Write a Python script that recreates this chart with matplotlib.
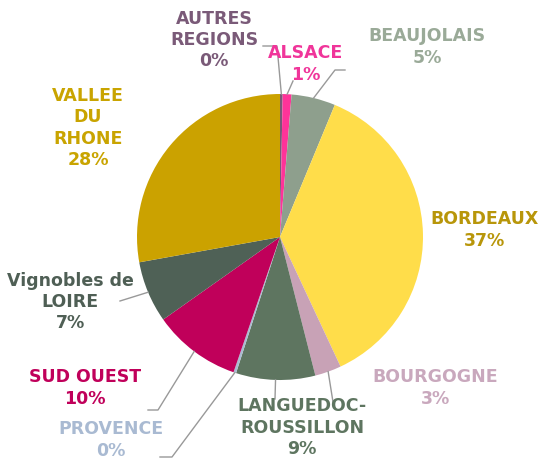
import matplotlib.pyplot as plt
import numpy as np

# Répartition par région (%)
regions = ['AUTRES\nREGIONS', 'ALSACE', 'BEAUJOLAIS', 'BORDEAUX', 'BOURGOGNE',
           'LANGUEDOC-\nROUSSILLON', 'PROVENCE', 'SUD OUEST', 'Vignobles de\nLOIRE',
           'VALLEE\nDU\nRHONE']
parts = [0.3, 1, 5, 37, 3, 9, 0.3, 10, 7, 28]
pct_labels = ['0%', '1%', '5%', '37%', '3%', '9%', '0%', '10%', '7%', '28%']
wedge_colors = ['#7b5877', '#ff3399', '#8e9f8d', '#ffdd4a', '#c8a2b6', '#5e7560',
                '#a9bcd2', '#c0005a', '#4f6156', '#cba200']
text_colors = ['#7a5a78', '#f0359a', '#9aaa98', '#b8960a', '#c9a8bd', '#5e7560',
               '#a9bad2', '#c0005a', '#4f5f55', '#c9a400']

# positions des étiquettes (pixels) et coudes des traits de rappel
label_pos = [(214, 40), (306, 64), (427, 47), (484, 230), (435, 388),
             (302, 428), (111, 440), (85, 388), (70, 302), (88, 128)]
leaders = [[(277, 47), (263, 47)], [(293, 82)], [(335, 71), (345, 71)], [],
           [(333, 403)], [(275, 400)], [(172, 458), (160, 458)],
           [(158, 411), (148, 411)], [(120, 302)], []]

W, H = 541, 460
cx, cy, r = 280, 238, 143

fig = plt.figure(figsize=(W / 100, H / 100), dpi=100)
ax = fig.add_axes([0, 0, 1, 1])

wedges, _ = ax.pie(parts, colors=wedge_colors, startangle=90, counterclock=False,
                   center=(cx, H - cy), radius=r)
ax.set_xlim(0, W)
ax.set_ylim(0, H)
ax.set_aspect('equal')
ax.axis('off')

for w, lab, pct, col, pos, pts in zip(wedges, regions, pct_labels, text_colors,
                                      label_pos, leaders):
    if pts:
        mid = np.deg2rad((w.theta1 + w.theta2) / 2)
        xs = [cx + r * np.cos(mid)] + [p[0] for p in pts]
        ys = [H - cy + r * np.sin(mid)] + [H - p[1] for p in pts]
        ax.plot(xs, ys, color='#999999', lw=1, zorder=1)
    ax.text(pos[0], H - pos[1], lab + '\n' + pct, ha='center', va='center',
            color=col, fontsize=12.5, fontweight='bold', family='DejaVu Sans',
            linespacing=1.25)

fig.savefig('out.png', dpi=100, facecolor='white')
